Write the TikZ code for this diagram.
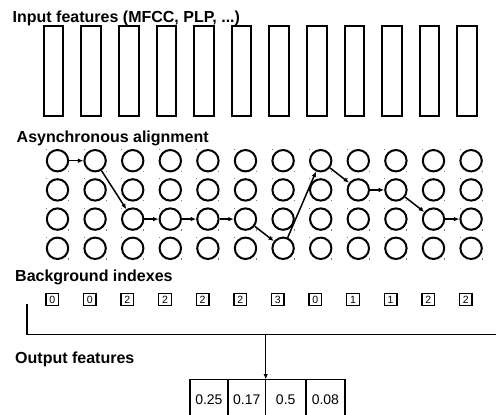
\documentclass[tikz,border=0pt]{standalone}
\usepackage{fontspec}
\setmainfont{Liberation Sans}
\usetikzlibrary{arrows.meta}

\begin{document}
\begin{tikzpicture}[x=1pt, y=-1pt, >={Latex[length=5.5pt,width=4.5pt]}]
    \useasboundingbox (0,0) rectangle (496,415);
    \node (inlab) at (12.5,22) [anchor=base west, inner sep=0pt, font=\bfseries\fontsize{16}{19}\selectfont] {Input features (MFCC, PLP, ...)};
    \node (allab) at (16.5,142) [anchor=base west, inner sep=0pt, font=\bfseries\fontsize{16}{19}\selectfont] {Asynchronous alignment};
    \node (bglab) at (15,281) [anchor=base west, inner sep=0pt, font=\bfseries\fontsize{16}{19}\selectfont] {Background indexes};
    \node (outlab) at (15,363.5) [anchor=base west, inner sep=0pt, font=\bfseries\fontsize{16}{19}\selectfont] {Output features};

    % input frames
    \foreach \i in {1,...,12}
        \node (r\i) at (53.5+37.6*\i-37.6, 71) [rectangle, draw, line width=2pt, minimum width=19.6pt, minimum height=90pt, inner sep=0pt] {};

    % alignment grid
    \foreach \i in {1,...,12}
        \foreach \j in {1,...,4} {
            \node (c\i-\j) at (57.5+37.6*\i-37.6, 160.7+29.2*\j-29.2) [circle, draw, line width=2pt, minimum size=21.4pt, inner sep=0pt] {};
            \fill[gray] (c\i-\j.center) ++(-11.5,-11.5) rectangle ++(1,1);
            \fill[gray] (c\i-\j.center) ++(10.5,10) rectangle ++(1,1.5);
        }
    \foreach \a/\b/\c/\d in {1/1/2/1, 2/1/3/3, 3/3/4/3, 4/3/5/3, 5/3/6/3, 6/3/7/4, 7/4/8/1, 8/1/9/2, 9/2/10/2, 10/2/11/3, 11/3/12/3}
        \draw[->, line width=1.5pt] (c\a-\b) -- (c\c-\d);

    % background indexes
    \foreach \v [count=\i] in {0,0,2,2,2,2,3,0,1,1,2,2}
        \node (b\i) at (52.2+37.6*\i-37.6, 299.5) [rectangle, draw, line width=1.4pt, minimum size=12.5pt, inner sep=0pt, font=\fontsize{10.5}{12}\selectfont] {\v};

    % output features
    \foreach \v/\x/\w [count=\k] in {0.25/208.9/37.7, 0.17/246.7/38, 0.5/285.7/40, 0.08/325.4/39.3}
        \node (o\k) at (\x,400) [rectangle, draw, line width=1.5pt, minimum width=\w pt, minimum height=41pt, inner sep=0pt, outer sep=0pt, font=\fontsize{14}{16}\selectfont] {\v};

    \coordinate (brk) at (26.7,304);
    \coordinate (brkend) at (500,334.3);
    \coordinate (split) at (265.7,334.3);
    \draw[line width=1.6pt] (brk) |- (brkend);
    \draw[->, line width=1.5pt] (split) -- (o2.north east);
\end{tikzpicture}
\end{document}
